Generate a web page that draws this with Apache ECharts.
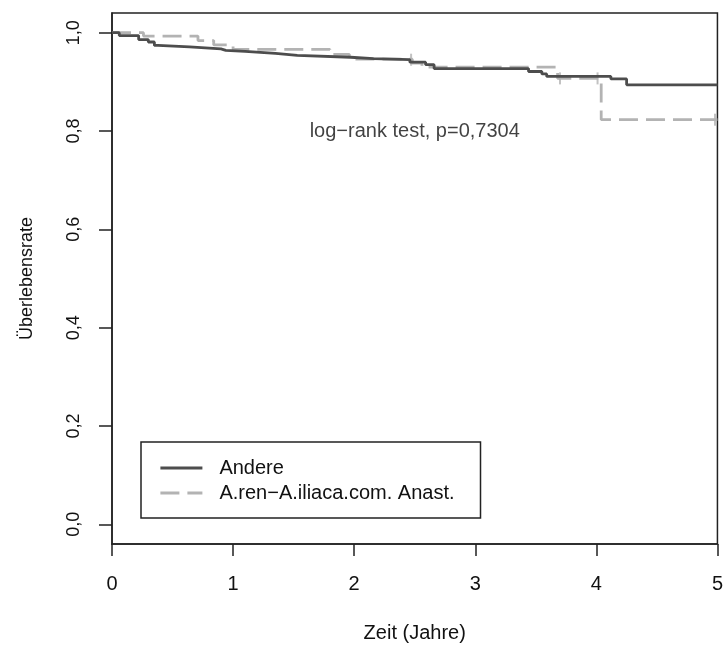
<!DOCTYPE html>
<html style="height: 100%">
<head>
<meta charset="utf-8">
</head>
<body style="height: 100%; margin: 0; background: #fff">
<div id="container" style="width: 726px; height: 648px"></div>
<script type="text/javascript" src="https://cdn.jsdelivr.net/npm/echarts@6/dist/echarts.min.js"></script>
<script type="text/javascript">
// Kaplan-Meier steps (time in years, survival)
var andereTime = [0, 0.06, 0.22, 0.30, 0.35, 0.38, 0.64, 0.90, 0.94, 1.10, 1.35, 1.53, 1.97, 2.16, 2.46, 2.59, 2.66, 3.44, 3.55, 3.59, 4.12, 4.25, 5.0];
var andereSurv = [1.0, 0.994, 0.986, 0.981, 0.974, 0.971, 0.967, 0.964, 0.962, 0.958, 0.954, 0.950, 0.947, 0.945, 0.940, 0.935, 0.927, 0.921, 0.916, 0.911, 0.906, 0.894, 0.894];
var anastTime = [0, 0.26, 0.71, 0.84, 1.00, 1.80, 1.96, 2.48, 2.56, 3.68, 4.04, 5.0];
var anastSurv = [1.0, 0.993, 0.984, 0.975, 0.966, 0.956, 0.946, 0.938, 0.930, 0.907, 0.823, 0.823];
// censor marks on the dashed curve
var censorTime = [2.47, 3.70, 4.01, 4.98];
var censorSurv = [0.945, 0.907, 0.907, 0.823];

var xTicks = [0, 1, 2, 3, 4, 5];
var yTicks = [0, 0.2, 0.4, 0.6, 0.8, 1.0];
var seriesNames = ['Andere', 'A.ren\u2212A.iliaca.com. Anast.'];
var testLabel = 'log\u2212rank test, p=0,7304';

function pairs(t, s) {
    var res = [];
    for (var i = 0; i < t.length; i++) {
        res.push([t[i], s[i]]);
    }
    return res;
}

var font = 'Liberation Sans, Arial, sans-serif';
var ink = '#111';

var dom = document.getElementById('container');
var myChart = echarts.init(dom, null, {renderer: 'canvas'});

var option = {
    animation: false,
    backgroundColor: '#fff',
    grid: {
        left: 112,
        right: 6,
        top: 13,
        bottom: 103,
        show: true,
        borderColor: '#222',
        borderWidth: 1.5
    },
    legend: {
        data: seriesNames,
        orient: 'vertical',
        left: 141,
        top: 442,
        padding: [16, 26, 15, 18],
        itemWidth: 42,
        itemHeight: 14,
        itemGap: 5,
        borderColor: '#222',
        borderWidth: 1.5,
        itemStyle: {opacity: 0},
        lineStyle: {width: 2.8},
        textStyle: {
            fontFamily: font,
            fontSize: 20,
            color: ink,
            lineHeight: 20,
            padding: [0, 0, 0, 12]
        }
    },
    xAxis: {
        type: 'value',
        min: 0,
        max: 5,
        interval: 1,
        name: 'Zeit (Jahre)',
        nameLocation: 'middle',
        nameGap: 79,
        nameTextStyle: {fontFamily: font, fontSize: 20, color: ink},
        splitLine: {show: false},
        axisLine: {show: true, onZero: false, lineStyle: {color: '#222', width: 1.5}},
        axisTick: {show: true, length: 12, lineStyle: {color: '#222', width: 1.5}},
        axisLabel: {
            margin: 30,
            fontFamily: font,
            fontSize: 20,
            color: ink,
            customValues: xTicks
        }
    },
    yAxis: {
        type: 'value',
        min: -0.04,
        max: 1.04,
        name: '\u00dcberlebensrate',
        nameLocation: 'middle',
        nameGap: 76,
        nameTextStyle: {fontFamily: font, fontSize: 18, color: ink},
        splitLine: {show: false},
        axisLine: {show: true, onZero: false, lineStyle: {color: '#222', width: 1.5}},
        axisTick: {show: true, length: 13, lineStyle: {color: '#222', width: 1.5}, customValues: yTicks},
        axisLabel: {
            rotate: 90,
            margin: 29,
            fontFamily: font,
            fontSize: 18,
            color: ink,
            customValues: yTicks,
            formatter: function (v) {
                return v.toFixed(1).replace('.', ',');
            }
        }
    },
    series: [
        {
            name: seriesNames[0],
            type: 'line',
            step: 'end',
            symbol: 'none',
            data: pairs(andereTime, andereSurv),
            lineStyle: {color: '#4d4d4d', width: 2.8},
            itemStyle: {color: '#4d4d4d'},
            z: 3
        },
        {
            name: seriesNames[1],
            type: 'line',
            step: 'end',
            symbol: 'none',
            data: pairs(anastTime, anastSurv),
            lineStyle: {color: '#b3b3b3', width: 2.8, type: [19, 8]},
            itemStyle: {color: '#b3b3b3'},
            z: 2
        },
        {
            name: 'censor',
            type: 'scatter',
            symbol: 'rect',
            symbolSize: [2, 12],
            data: pairs(censorTime, censorSurv),
            itemStyle: {color: '#b3b3b3'},
            z: 2
        },
        {
            name: 'test',
            type: 'scatter',
            symbolSize: 0,
            data: [[2.5, 0.8]],
            label: {
                show: true,
                position: 'inside',
                formatter: testLabel,
                fontFamily: font,
                fontSize: 20,
                color: ink
            }
        }
    ]
};
myChart.setOption(option, true);
</script>
</body>
</html>
